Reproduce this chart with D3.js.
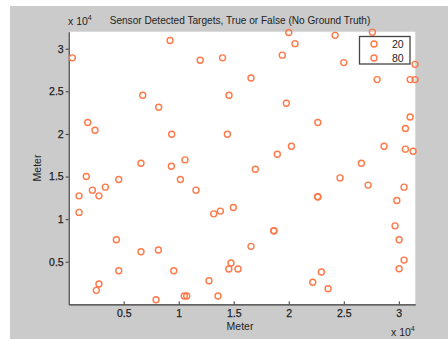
<!DOCTYPE html>
<html>
<head>
<meta charset="utf-8">
<script src="https://cdn.jsdelivr.net/npm/d3@7"></script>
<style>
  html, body { margin: 0; padding: 0; background: #ffffff; }
  svg { display: block; font-family: "Liberation Sans", Arial, sans-serif; }
</style>
</head>
<body>
<svg id="chart" width="448" height="339"></svg>
<script>
// Detected target positions in metres (east, north)
const series80X = [330, 9210, 6730, 8180, 1730, 2390, 9360, 6570, 9330, 10570,
  1600, 4550, 10150, 20000, 20570, 11950, 13980, 19410, 16570, 14570,
  19780, 22640, 14420, 20240, 18960, 16960, 24210, 27600, 31480, 25000,
  28030, 31030, 31480, 31030, 30600, 28660, 30600, 31300, 26600, 24660,
  940, 2150, 2750, 3330, 940, 4330, 6570, 8150, 4550, 9550,
  2750, 2510, 7940, 10510, 11570, 14960, 13180, 13780, 22620, 18640,
  16570, 14750, 14550, 15390, 12750, 22960, 22180, 23570, 13570, 27210,
  30480, 29820, 29660, 30030, 30480, 30030];
const series80Y = [28930, 30960, 24540, 23130, 21340, 20430, 19960, 16560, 16210, 16950,
  15010, 14650, 14650, 31900, 30600, 28640, 28930, 29250, 26570, 24540,
  23600, 21340, 19960, 18560, 17620, 15860, 31570, 31950, 28170, 28370,
  26380, 26380, 26380, 21990, 20630, 18560, 18210, 17970, 16560, 14840,
  12730, 13400, 12730, 13750, 10790, 7570, 6170, 6370, 3940, 3940,
  2380, 1640, 540, 970, 13400, 11370, 10620, 10940, 12640, 8650,
  6800, 4840, 4140, 4140, 2770, 3790, 2580, 1830, 970, 13990,
  13750, 12190, 9210, 7570, 5190, 4170];
const series20X = [22650, 18650, 10730];
const series20Y = [12600, 8610, 970];

const legendLabels = ["20", "80"];
const xTickValues = [5000, 10000, 15000, 20000, 25000, 30000];
const xTickLabels = ["0.5", "1", "1.5", "2", "2.5", "3"];
const yTickValues = [5000, 10000, 15000, 20000, 25000, 30000];
const yTickLabels = ["0.5", "1", "1.5", "2", "2.5", "3"];
const titleText = "Sensor Detected Targets, True or False (No Ground Truth)";
const xLabel = "Meter";
const yLabel = "Meter";

const markerColor = "#ff7848";
const textColor = "#1e1e1e";
const fontSize = 10.5;

const svg = d3.select("#chart");

// Figure background
svg.append("rect").attr("x", 10).attr("y", 6).attr("width", 438).attr("height", 333)
  .attr("fill", "#cbcbcb");

const plot = { left: 68.7, right: 415.3, top: 31.7, bottom: 304.3 };
const x = d3.scaleLinear().domain([0, 31500]).range([plot.left, plot.right]);
const y = d3.scaleLinear().domain([0, 32000]).range([plot.bottom, plot.top]);

// Axes background
svg.append("rect")
  .attr("x", plot.left).attr("y", plot.top)
  .attr("width", plot.right - plot.left).attr("height", plot.bottom - plot.top)
  .attr("fill", "#ffffff");

function styleAxis(g) {
  g.selectAll("path.domain").attr("stroke", "#3a3a3a").attr("stroke-width", 1.2);
  g.selectAll(".tick line").attr("stroke", "#3a3a3a");
  g.selectAll(".tick text").attr("fill", textColor).attr("font-size", fontSize)
    .attr("font-family", "'Liberation Sans', Arial, sans-serif")
    .attr("stroke", textColor).attr("stroke-width", 0.25);
}

const xAxis = d3.axisBottom(x)
  .tickValues(xTickValues)
  .tickFormat((d, i) => xTickLabels[i])
  .tickSizeInner(-3).tickSizeOuter(0).tickPadding(5);
svg.append("g").attr("transform", `translate(0,${plot.bottom})`).call(xAxis).call(styleAxis);

const yAxis = d3.axisLeft(y)
  .tickValues(yTickValues)
  .tickFormat((d, i) => yTickLabels[i])
  .tickSizeInner(3).tickSizeOuter(0).tickPadding(2);
svg.append("g").attr("transform", `translate(${plot.left},0)`).call(yAxis).call(styleAxis);

// Markers
function drawSeries(xs, ys) {
  svg.append("g").selectAll("circle")
    .data(xs.map((v, i) => [v, ys[i]]))
    .join("circle")
    .attr("cx", d => x(d[0]))
    .attr("cy", d => y(d[1]))
    .attr("r", 3)
    .attr("fill", "none")
    .attr("stroke", markerColor)
    .attr("stroke-width", 1.4);
}
drawSeries(series20X, series20Y);
drawSeries(series80X, series80Y);

// Title
svg.append("text")
  .attr("x", 240).attr("y", 24)
  .attr("text-anchor", "middle")
  .attr("font-size", 10.1).attr("fill", textColor)
  .text(titleText);

// Exponent labels
function exponent(px, py) {
  const t = svg.append("text").attr("x", px).attr("y", py)
    .attr("font-size", fontSize).attr("fill", textColor);
  t.append("tspan").text("x 10");
  t.append("tspan").attr("dy", -5).attr("font-size", 7).text("4");
}
exponent(68, 25);
exponent(391, 336);

// Axis labels
svg.append("text")
  .attr("x", 240).attr("y", 330)
  .attr("text-anchor", "middle")
  .attr("font-size", fontSize).attr("fill", textColor)
  .text(xLabel);
svg.append("text")
  .attr("transform", "translate(41,168) rotate(-90)")
  .attr("text-anchor", "middle")
  .attr("font-size", fontSize).attr("fill", textColor)
  .text(yLabel);

// Legend
const legend = svg.append("g");
legend.append("rect")
  .attr("x", 359.5).attr("y", 36.5).attr("width", 50.5).attr("height", 27.5)
  .attr("fill", "#ffffff").attr("stroke", "#444444").attr("stroke-width", 1.3);
legendLabels.forEach((lab, i) => {
  const cy = 44 + i * 14;
  legend.append("circle").attr("cx", 374).attr("cy", cy).attr("r", 3)
    .attr("fill", "none").attr("stroke", markerColor).attr("stroke-width", 1.4);
  legend.append("text").attr("x", 392).attr("y", cy + 3.8)
    .attr("font-size", fontSize).attr("fill", textColor).text(lab);
});
</script>
</body>
</html>
